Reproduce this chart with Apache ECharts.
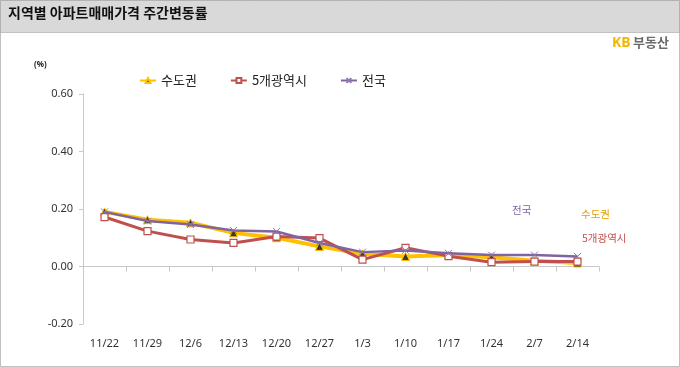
<!DOCTYPE html>
<html><head><meta charset="utf-8">
<script src="https://cdn.jsdelivr.net/npm/echarts@6/dist/echarts.min.js"></script>
<style>html,body{margin:0;padding:0;background:#fff}#c{width:680px;height:367px}</style>
</head><body><div id="c"></div>
<script>
const categories = ['11/22','11/29','12/6','12/13','12/20','12/27','1/3','1/10','1/17','1/24','2/7','2/14'];
const sudogwon = [0.19,0.163,0.152,0.117,0.10,0.07,0.044,0.035,0.04,0.032,0.02,0.012];
const metro5 = [0.172,0.123,0.094,0.082,0.104,0.099,0.024,0.065,0.036,0.015,0.017,0.017];
const national = [0.19,0.158,0.146,0.125,0.122,0.082,0.05,0.056,0.046,0.04,0.04,0.035];
const yTicks = [-0.2,0,0.2,0.4,0.6];
const seriesNames = ['수도권','5개광역시','전국'];
const title = '지역별 아파트매매가격 주간변동률';

const KR = '"Noto Sans CJK KR", sans-serif';
const chart = echarts.init(document.getElementById('c'));
const xMark = 'path://M0,0L10,10M10,0L0,10';
chart.setOption({
  animation:false,
  textStyle:{fontFamily:KR},
  grid:{left:83,right:81,top:94,bottom:43},
  legend:{
    top:69,left:134,itemGap:33,itemWidth:16,itemHeight:6,
    textStyle:{fontSize:13,color:'#222',fontFamily:KR},
    data:seriesNames
  },
  xAxis:[{
    type:'category',data:categories,boundaryGap:true,
    axisLine:{onZero:true,lineStyle:{color:'#c8c8c8'}},
    axisTick:{show:true,length:5,lineStyle:{color:'#c8c8c8'}},
    axisLabel:{show:false}
  },{
    type:'category',data:categories,boundaryGap:true,position:'bottom',
    axisLine:{show:false,onZero:false},axisTick:{show:false},
    axisLabel:{fontSize:11,color:'#333',margin:14,fontFamily:'"Liberation Sans Narrow", "Noto Sans", sans-serif'}
  }],
  yAxis:{
    type:'value',min:-0.2,max:0.6,interval:0.2,
    axisLine:{show:true,lineStyle:{color:'#c8c8c8'}},
    axisTick:{show:true,length:4,lineStyle:{color:'#c8c8c8'}},
    splitLine:{show:false},
    axisLabel:{fontSize:11,color:'#333',margin:10,formatter:v=>v.toFixed(2),fontFamily:'"Noto Sans", sans-serif'}
  },
  series:[
    {name:seriesNames[0],type:'line',data:sudogwon,z:2,
     lineStyle:{color:'#FFC000',width:4},
     itemStyle:{color:'#3b3a22',borderColor:'#FFC000',borderWidth:1},
     symbol:'triangle',symbolSize:8,showAllSymbol:true},
    {name:seriesNames[1],type:'line',data:metro5,z:3,
     lineStyle:{color:'#C0504D',width:3},
     itemStyle:{color:'#ffffff',borderColor:'#C0504D',borderWidth:1.2},
     symbol:'rect',symbolSize:7,showAllSymbol:true},
    {name:seriesNames[2],type:'line',data:national,z:4,
     lineStyle:{color:'#8064A2',width:2.5},
     itemStyle:{color:'#8064A2',borderColor:'#8b7aa8',borderWidth:1},
     symbol:xMark,symbolSize:7,showAllSymbol:true}
  ],
  graphic:[
    {type:'rect',shape:{x:0.5,y:0.5,width:679,height:366},style:{fill:'none',stroke:'#c0c0c0',lineWidth:1},z:0},
    {type:'rect',shape:{x:0.5,y:0.5,width:679,height:32},style:{fill:'#d9d9d9',stroke:'#999',lineWidth:1,lineDash:[1,1]},z:1},
    {type:'text',left:8,top:6,style:{text:title,font:'bold 14px '+KR,fill:'#111'},z:2},
    {type:'text',left:612,top:36,style:{text:'KB',font:'bold 14px "Noto Sans", sans-serif',fill:'#F2B500'},z:2},
    {type:'text',left:633,top:36,style:{text:'부동산',font:'bold 13px '+KR,fill:'#6b6b6b'},z:2},
    {type:'text',left:34,top:61,style:{text:'(%)',font:'bold 8px "Noto Sans", sans-serif',fill:'#222'},z:2},
    {type:'text',left:512,top:205,style:{text:'전국',font:'10.5px '+KR,fill:'#7f5fa8'},z:2},
    {type:'text',left:581,top:209,style:{text:'수도권',font:'10.5px '+KR,fill:'#E0A000'},z:2},
    {type:'text',left:582,top:233,style:{text:'5개광역시',font:'10.5px '+KR,fill:'#C0504D'},z:2}
  ]
});
</script></body></html>
